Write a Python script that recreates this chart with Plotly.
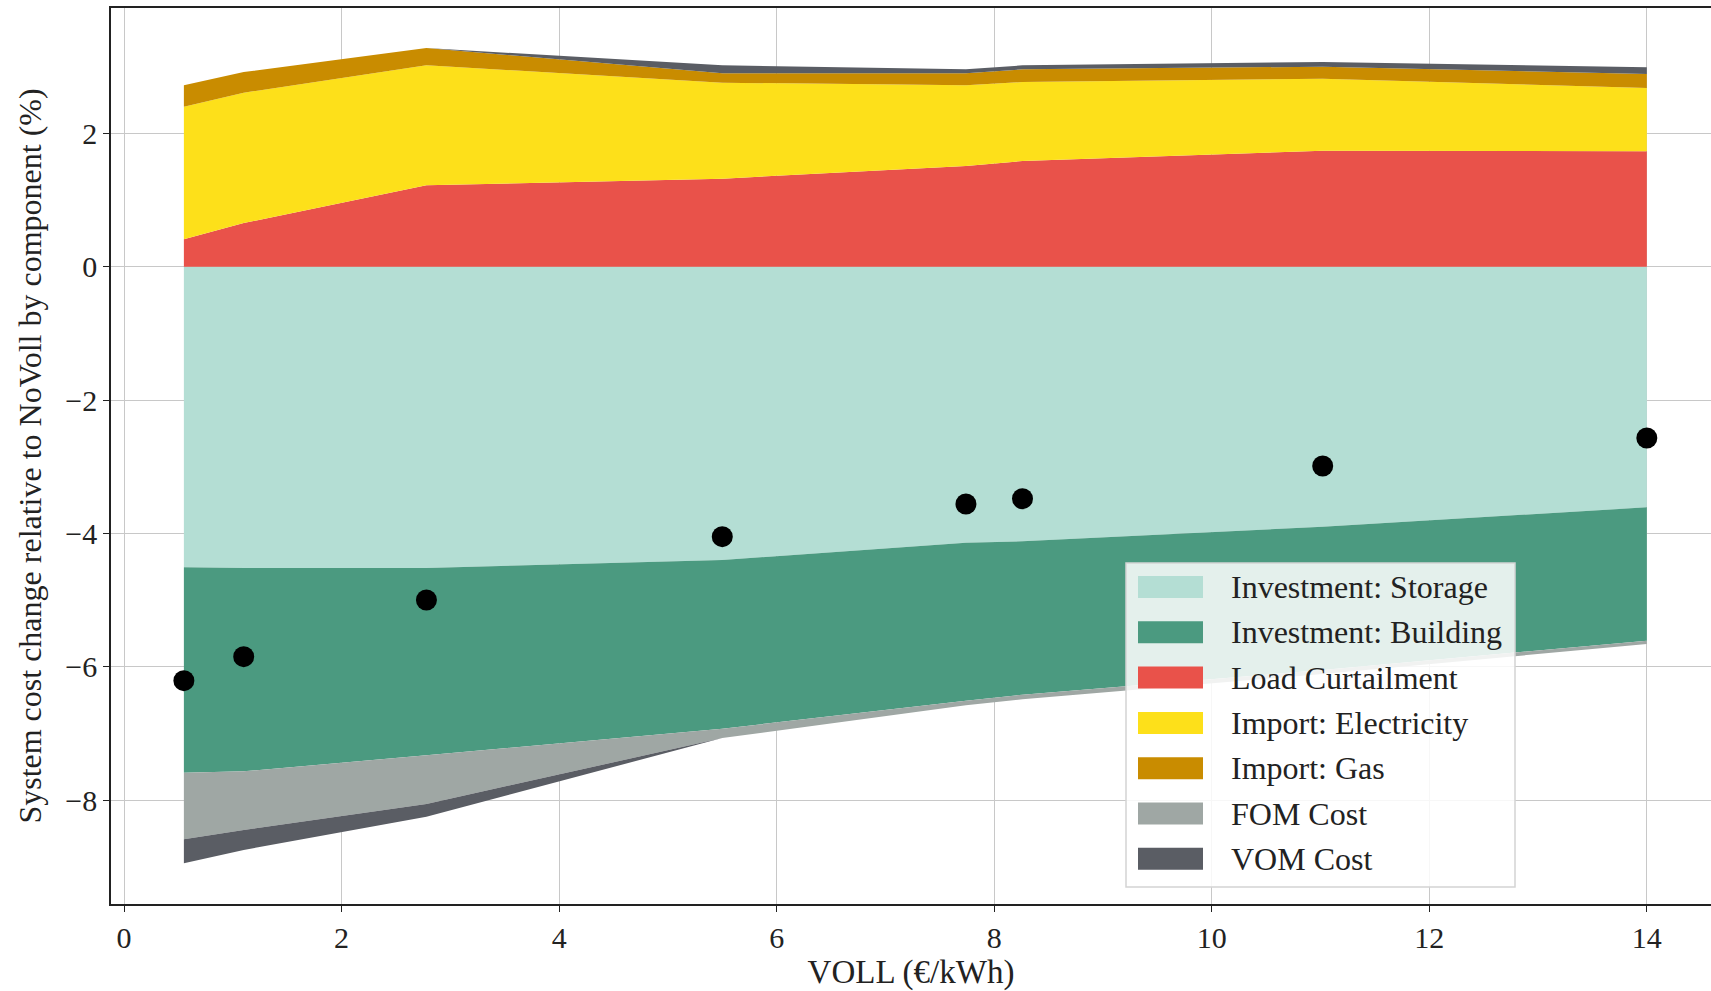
import numpy as np
import plotly.graph_objects as go

# ---- data ----
voll = [0.55, 1.1, 2.78, 5.5, 7.74, 8.26, 11.02, 14.0]

inv_storage = [-4.51, -4.52, -4.52, -4.40, -4.14, -4.12, -3.90, -3.61]
inv_building = [-3.08, -3.05, -2.81, -2.53, -2.37, -2.30, -2.15, -2.00]
load_curtail = [0.41, 0.655, 1.22, 1.32, 1.51, 1.585, 1.74, 1.73]
import_elec = [1.99, 1.955, 1.80, 1.44, 1.21, 1.185, 1.08, 0.95]
import_gas = [0.32, 0.31, 0.26, 0.14, 0.18, 0.19, 0.18, 0.21]
fom_cost = [-1.00, -0.88, -0.73, -0.14, -0.07, -0.07, -0.06, -0.05]
vom_cost = [-0.36, -0.30, -0.19, 0.12, 0.06, 0.06, 0.07, 0.10]

total_change = [-6.21, -5.85, -5.00, -4.05, -3.56, -3.48, -2.99, -2.57]

x_ticks = [0, 2, 4, 6, 8, 10, 12, 14]
y_ticks = [-8, -6, -4, -2, 0, 2]

component_names = ["Investment: Storage", "Investment: Building", "Load Curtailment",
                   "Import: Electricity", "Import: Gas", "FOM Cost", "VOM Cost"]
component_values = [inv_storage, inv_building, load_curtail, import_elec,
                    import_gas, fom_cost, vom_cost]
component_colors = ["#b4ded4", "#4b9a80", "#e9524a", "#fde01a", "#c98c00",
                    "#9fa7a4", "#5a5d64"]

FONT = "Liberation Serif"
W, H = 1711, 991
ML, MR, MT, MB = 111, 0, 8, 87
PW, PH = W - ML - MR, H - MT - MB


def px2paper(px, py):
    return (px - ML) / PW, (H - MB - py) / PH


fig = go.Figure()

lookup = {n: (v, c) for n, v, c in zip(component_names, component_values, component_colors)}
neg_order = ["Investment: Storage", "Investment: Building", "FOM Cost", "VOM Cost"]
pos_order = ["Load Curtailment", "Import: Electricity", "Import: Gas", "VOM Cost"]

for group, order, fn in (("neg", neg_order, np.minimum), ("pos", pos_order, np.maximum)):
    for name in order:
        vals, col = lookup[name]
        y = fn(np.array(vals, dtype=float), 0.0)
        if not np.any(y != 0):
            continue
        fig.add_trace(go.Scatter(
            x=voll, y=y, mode="lines", stackgroup=group,
            line=dict(width=0, color=col), fillcolor=col,
            name=name, showlegend=False, hoverinfo="skip",
        ))

fig.add_trace(go.Scatter(
    x=voll, y=total_change, mode="markers",
    marker=dict(color="black", size=21), showlegend=False,
))

# ---- legend drawn as shapes + text ----
shapes = []
annotations = []
bx0, by0 = px2paper(1126, 563)
bx1, by1 = px2paper(1515, 887)
shapes.append(dict(type="rect", xref="paper", yref="paper", x0=bx0, x1=bx1, y0=by1, y1=by0,
                   line=dict(color="#d4d4d4", width=1.5), fillcolor="rgba(255,255,255,0.85)",
                   layer="above"))
row0, dy = 587, 45.3
for i, (name, col) in enumerate(zip(component_names, component_colors)):
    cy = row0 + i * dy
    sx0, sy0 = px2paper(1138, cy - 11)
    sx1, sy1 = px2paper(1203, cy + 11)
    shapes.append(dict(type="rect", xref="paper", yref="paper", x0=sx0, x1=sx1, y0=sy1, y1=sy0,
                       line=dict(width=0), fillcolor=col, layer="above"))
    tx, ty = px2paper(1229, cy)
    annotations.append(dict(xref="paper", yref="paper", x=tx, y=ty, text=name,
                            showarrow=False, xanchor="left", yanchor="middle",
                            font=dict(family=FONT, size=32, color="#222222")))

fig.update_layout(
    width=W, height=H,
    margin=dict(l=ML, r=MR, t=MT, b=MB, autoexpand=False),
    plot_bgcolor="white", paper_bgcolor="white",
    font=dict(family=FONT, size=30, color="#222222"),
    showlegend=False,
    shapes=shapes, annotations=annotations,
    xaxis=dict(
        range=[-0.12, 14.59], tickvals=x_ticks, ticktext=[str(v) for v in x_ticks],
        showgrid=True, gridcolor="#c8c8c8", gridwidth=1, zeroline=False,
        showline=True, linecolor="#222222", linewidth=1.5, mirror=True,
        ticks="outside", ticklen=6, tickcolor="#222222", automargin=False,
        title=dict(text="VOLL (€/kWh)", font=dict(size=33), standoff=4),
    ),
    yaxis=dict(
        range=[-9.56, 3.88], tickvals=y_ticks,
        ticktext=[("\u2212" + str(-v)) if v < 0 else str(v) for v in y_ticks],
        showgrid=True, gridcolor="#c8c8c8", gridwidth=1, zeroline=False,
        showline=True, linecolor="#222222", linewidth=1.5, automargin=False,
        ticks="outside", ticklen=6, tickcolor="#222222",
        title=dict(text="System cost change relative to NoVoll by component (%)",
                   font=dict(size=32), standoff=14),
    ),
)

fig.write_html("out.html", config={"displayModeBar": False},
               post_script="document.body.style.margin='0';document.body.style.overflow='hidden';")
